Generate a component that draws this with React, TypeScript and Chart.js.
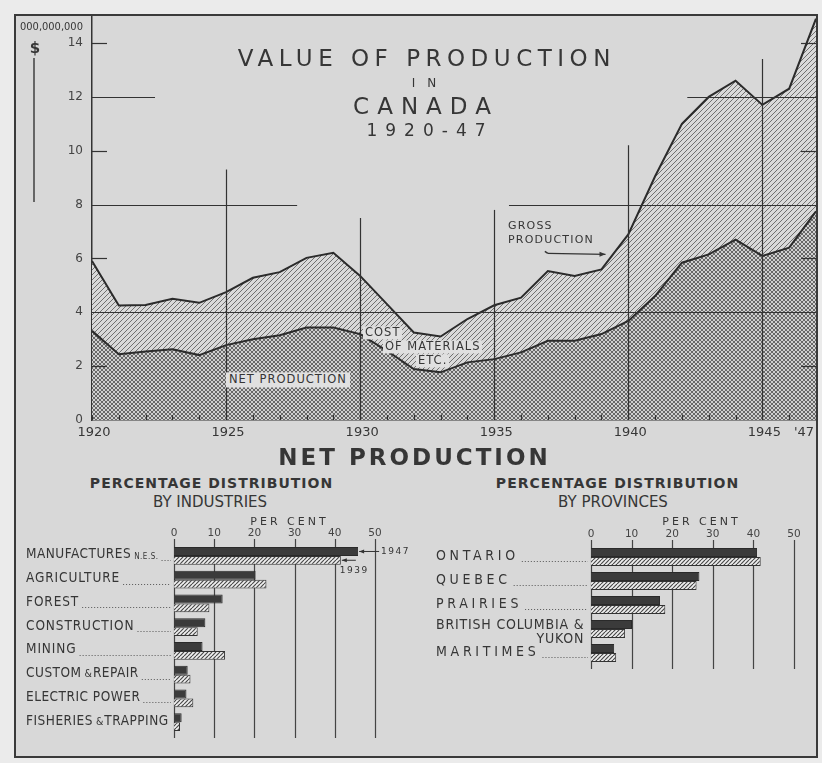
import React, { useEffect, useRef } from "react";
import { Chart, registerables } from "chart.js";

Chart.register(...registerables);

// ---------------- DATA ----------------
const years = [1920, 1921, 1922, 1923, 1924, 1925, 1926, 1927, 1928, 1929, 1930, 1931, 1932, 1933, 1934, 1935, 1936, 1937, 1938, 1939, 1940, 1941, 1942, 1943, 1944, 1945, 1946, 1947];
const grossProduction = [5.9, 4.25, 4.27, 4.5, 4.35, 4.75, 5.28, 5.49, 6.02, 6.21, 5.35, 4.3, 3.25, 3.1, 3.75, 4.26, 4.54, 5.53, 5.35, 5.59, 6.89, 9.05, 11.0, 12.0, 12.6, 11.7, 12.3, 14.9];
const netProduction = [3.31, 2.44, 2.54, 2.63, 2.41, 2.78, 3.0, 3.15, 3.43, 3.43, 3.19, 2.57, 1.89, 1.77, 2.14, 2.26, 2.51, 2.94, 2.94, 3.19, 3.68, 4.6, 5.84, 6.15, 6.7, 6.09, 6.4, 7.75];
const yearTickValues = [1920, 1925, 1930, 1935, 1940, 1945, 1947];
const yearTickLabels = ["1920", "1925", "1930", "1935", "1940", "1945", "'47"];
const valueTicks = [0, 2, 4, 6, 8, 10, 12, 14];

const industries = ["MANUFACTURES N.E.S.", "AGRICULTURE", "FOREST", "CONSTRUCTION", "MINING", "CUSTOM & REPAIR", "ELECTRIC POWER", "FISHERIES & TRAPPING"];
const industries1947 = [45.8, 20.3, 12.1, 7.8, 7.1, 3.4, 3.1, 1.9];
const industries1939 = [41.5, 23.0, 8.8, 5.9, 12.7, 4.1, 4.8, 1.5];

const provinces = ["ONTARIO", "QUEBEC", "PRAIRIES", "BRITISH COLUMBIA &\nYUKON", "MARITIMES"];
const provinces1947 = [40.9, 26.7, 17.0, 10.1, 5.7];
const provinces1939 = [41.8, 26.0, 18.3, 8.4, 6.2];

const percentTicks = [0, 10, 20, 30, 40, 50];
const seriesYears = ["1947", "1939"];

// ---------------- STYLE ----------------
const SANS = "'DejaVu Sans', sans-serif";
const COND = "'DejaVu Sans Condensed', 'Liberation Sans Narrow', 'DejaVu Sans', sans-serif";
const INK = "#363636";

function diagTile(size: number, bg: string, fg: string, lw: number, both: boolean) {
  const c = document.createElement("canvas");
  c.width = size;
  c.height = size;
  const g = c.getContext("2d")!;
  g.fillStyle = bg;
  g.fillRect(0, 0, size, size);
  g.strokeStyle = fg;
  g.lineWidth = lw;
  const line = (x0: number, y0: number, x1: number, y1: number) => {
    g.beginPath();
    g.moveTo(x0, y0);
    g.lineTo(x1, y1);
    g.stroke();
  };
  for (const o of [-size, 0, size]) {
    line(o, size, o + size, 0);
    if (both) line(o, 0, o + size, size);
  }
  return c;
}

function seg(ctx: CanvasRenderingContext2D, x0: number, y0: number, x1: number, y1: number) {
  ctx.beginPath();
  ctx.moveTo(x0, y0);
  ctx.lineTo(x1, y1);
  ctx.stroke();
}

function arrowHead(ctx: CanvasRenderingContext2D, x: number, y: number, dir: number, len = 6, half = 2.5) {
  ctx.beginPath();
  ctx.moveTo(x, y);
  ctx.lineTo(x - dir * len, y - half);
  ctx.lineTo(x - dir * len, y + half);
  ctx.closePath();
  ctx.fill();
}

const topDecorPlugin = {
  id: "topDecor",
  afterDatasetsDraw(chart: any) {
    const { ctx } = chart;
    const x = chart.scales.x;
    const y = chart.scales.y;
    ctx.save();
    ctx.strokeStyle = "#333";
    ctx.lineWidth = 1.2;
    const rules: [number, number, number][] = [
      [4, 1920, 1947],
      [8, 1920, 1927.65],
      [8, 1935.55, 1947],
      [12, 1920, 1922.35],
      [12, 1942.2, 1947],
    ];
    rules.forEach(([v, a, b]) => {
      const py = Math.round(y.getPixelForValue(v)) + 0.5;
      seg(ctx, x.getPixelForValue(a), py, x.getPixelForValue(b), py);
    });
    [2, 6, 10, 14].forEach((v) => {
      const py = Math.round(y.getPixelForValue(v)) + 0.5;
      seg(ctx, x.left, py, x.left + 15, py);
      seg(ctx, x.right - 15, py, x.right, py);
    });
    const verticals: [number, number][] = [
      [1925, 9.3],
      [1930, 7.5],
      [1935, 7.8],
      [1940, 10.2],
      [1945, 13.4],
    ];
    verticals.forEach(([yr, top]) => {
      const px = Math.round(x.getPixelForValue(yr)) + 0.5;
      seg(ctx, px, y.getPixelForValue(top), px, y.bottom);
    });
    years.forEach((yr) => {
      const px = Math.round(x.getPixelForValue(yr)) + 0.5;
      seg(ctx, px, y.bottom, px, y.bottom - 5);
    });
    // year labels
    ctx.fillStyle = INK;
    ctx.font = `13px ${SANS}`;
    ctx.textBaseline = "middle";
    yearTickValues.forEach((v, i) => {
      const px = x.getPixelForValue(v);
      const last = i === yearTickValues.length - 1;
      ctx.textAlign = last ? "right" : "center";
      ctx.fillText(yearTickLabels[i], last ? px - 2 : px + 2, y.bottom + 13);
    });
    // gross production arrow
    ctx.lineWidth = 1.4;
    const ay = y.getPixelForValue(6.15);
    const ax0 = x.getPixelForValue(1937.0);
    const ax1 = x.getPixelForValue(1939.15);
    seg(ctx, ax0, ay - 1, ax1, ay);
    seg(ctx, ax0, ay - 1, ax0 - 3, ay - 3);
    arrowHead(ctx, ax1, ay, 1);
    ctx.restore();
  },
};

// draws a text run, shrinking any " & " to a small ampersand; returns width
function drawRun(ctx: CanvasRenderingContext2D, text: string, x: number, y: number, size: number, spacing: number) {
  const parts = text.split(" & ");
  let cx = x;
  parts.forEach((p, i) => {
    if (i > 0) {
      ctx.font = `${size - 3}px ${COND}`;
      (ctx as any).letterSpacing = "0px";
      ctx.fillText(" &", cx, y + 1);
      cx += ctx.measureText(" &").width + 1;
    }
    ctx.font = `${size}px ${COND}`;
    (ctx as any).letterSpacing = `${spacing}px`;
    ctx.fillText(p, cx, y);
    cx += ctx.measureText(p).width;
  });
  return cx - x;
}

function makeBarDecor(labelX: number, wideSpacing: number, narrowSpacing: number, size: number) {
  return {
    id: "barDecor",
    beforeDatasetsDraw(chart: any) {
      const { ctx, chartArea } = chart;
      const x = chart.scales.x;
      ctx.save();
      ctx.strokeStyle = "#444";
      ctx.lineWidth = 1.2;
      percentTicks.forEach((v) => {
        const px = Math.round(x.getPixelForValue(v)) + 0.5;
        seg(ctx, px, chartArea.top - 5, px, chartArea.bottom + 4);
      });
      ctx.restore();
    },
    afterDraw(chart: any) {
      const { ctx, chartArea } = chart;
      const y = chart.scales.y;
      const labels: string[] = chart.data.labels;
      ctx.save();
      ctx.fillStyle = INK;
      ctx.strokeStyle = "#555";
      ctx.textBaseline = "middle";
      ctx.textAlign = "left";
      labels.forEach((label, i) => {
        const cy = y.getPixelForValue(i);
        const lines = label.split("\n");
        const multi = lines.length > 1;
        const single = !label.includes(" ");
        const sp = single ? wideSpacing : narrowSpacing;
        const ly = multi ? cy - 4 : cy - 1;
        let main = lines[0];
        let small = "";
        const m = main.match(/^(.*)\s(N\.E\.S\.)$/);
        if (m) {
          main = m[1];
          small = m[2];
        }
        let w: number;
        if (multi) {
          ctx.font = `${size}px ${COND}`;
          (ctx as any).letterSpacing = `${sp}px`;
          ctx.fillText(main, labelX, ly);
          w = ctx.measureText(main).width;
        } else {
          w = drawRun(ctx, main, labelX, ly, size, sp);
        }
        if (small) {
          ctx.font = `8px ${COND}`;
          (ctx as any).letterSpacing = "0.5px";
          ctx.fillText(small, labelX + w + 3, ly + 2);
          w += 3 + ctx.measureText(small).width;
        }
        if (multi) {
          ctx.font = `${size}px ${COND}`;
          (ctx as any).letterSpacing = `${sp}px`;
          ctx.textAlign = "right";
          ctx.fillText(lines[1], labelX + w, cy + 10);
          ctx.textAlign = "left";
        }
        (ctx as any).letterSpacing = "0px";
        ctx.setLineDash([1, 2]);
        ctx.lineWidth = 1;
        const dy = Math.round(ly + 5) + 0.5;
        if (chartArea.left - 3 > labelX + w + 4) seg(ctx, labelX + w + 3, dy, chartArea.left - 3, dy);
        ctx.setLineDash([]);
      });
      ctx.restore();
    },
  };
}

const yearMarkerPlugin = {
  id: "yearMarkers",
  afterDatasetsDraw(chart: any) {
    const { ctx } = chart;
    const b0 = chart.getDatasetMeta(0).data[0];
    const b1 = chart.getDatasetMeta(1).data[0];
    if (!b0 || !b1) return;
    ctx.save();
    ctx.strokeStyle = "#333";
    ctx.fillStyle = "#333";
    ctx.lineWidth = 1;
    seg(ctx, b0.x + 1, b0.y, b0.x + 21, b0.y);
    arrowHead(ctx, b0.x + 1, b0.y, -1, 5, 2);
    seg(ctx, b1.x + 1, b1.y, b1.x + 15, b1.y);
    arrowHead(ctx, b1.x + 1, b1.y, -1, 5, 2);
    ctx.font = `9px ${SANS}`;
    (ctx as any).letterSpacing = "1.5px";
    ctx.textBaseline = "middle";
    ctx.textAlign = "left";
    ctx.fillText(seriesYears[0], b0.x + 23, b0.y);
    ctx.fillText(seriesYears[1], b1.x - 1, b1.y + 10);
    ctx.restore();
  },
};

function barChart(
  canvas: HTMLCanvasElement,
  labels: string[],
  a: number[],
  b: number[],
  axisWidth: number,
  axisHeight: number,
  padRight: number,
  padBottom: number,
  decor: any,
  extra: any[]
) {
  const ctx = canvas.getContext("2d")!;
  const hatch = ctx.createPattern(diagTile(4, "#efefef", "#4a4a4a", 1.2, false), "repeat")!;
  return new Chart(canvas, {
    type: "bar",
    data: {
      labels,
      datasets: [
        { label: seriesYears[0], data: a, backgroundColor: "#3b3b3b", borderColor: "#2a2a2a", borderWidth: 1 },
        { label: seriesYears[1], data: b, backgroundColor: hatch as any, borderColor: "#333", borderWidth: 1 },
      ],
    },
    options: {
      indexAxis: "y",
      responsive: false,
      animation: false,
      events: [],
      layout: { padding: { left: 0, top: 0, right: padRight, bottom: padBottom } },
      datasets: { bar: { categoryPercentage: 0.74, barPercentage: 1.0 } } as any,
      plugins: { legend: { display: false }, tooltip: { enabled: false } },
      scales: {
        x: {
          position: "top",
          min: 0,
          max: 50,
          afterBuildTicks: (s: any) => {
            s.ticks = percentTicks.map((v) => ({ value: v }));
          },
          grid: { display: false, drawTicks: false },
          border: { display: false },
          ticks: { padding: 4, color: "#444", font: { family: SANS, size: 10.5 } },
          afterFit: (s: any) => {
            s.height = axisHeight;
            s.paddingLeft = 0;
            s.paddingRight = 0;
          },
        },
        y: {
          grid: { display: false, drawTicks: false },
          border: { display: false },
          ticks: { display: false },
          afterFit: (s: any) => {
            s.width = axisWidth;
            s.paddingTop = 0;
            s.paddingBottom = 0;
          },
        },
      },
    } as any,
    plugins: [decor, ...extra],
  });
}

type TxtProps = {
  x: number;
  y: number;
  children: React.ReactNode;
  size: number;
  weight?: number;
  spacing?: number;
  align?: "left" | "center";
  family?: string;
  bg?: string;
  pad?: [number, number];
};

function Txt({ x, y, children, size, weight = 400, spacing = 0, align = "center", family = SANS, bg, pad = [0, 0] }: TxtProps) {
  const padLeft = pad[1] + (align === "center" ? spacing : 0);
  return (
    <div
      style={{
        position: "absolute",
        left: x,
        top: y,
        transform: align === "center" ? "translate(-50%, -50%)" : "translateY(-50%)",
        fontFamily: family,
        fontSize: size,
        fontWeight: weight,
        letterSpacing: spacing,
        whiteSpace: "nowrap",
        lineHeight: 1.15,
        color: INK,
        background: bg,
        padding: `${pad[0]}px ${pad[1]}px ${pad[0]}px ${padLeft}px`,
      }}
    >
      {children}
    </div>
  );
}

export default function App() {
  const topRef = useRef<HTMLCanvasElement>(null);
  const indRef = useRef<HTMLCanvasElement>(null);
  const provRef = useRef<HTMLCanvasElement>(null);

  useEffect(() => {
    const charts: Chart[] = [];
    const tc = topRef.current!;
    const tctx = tc.getContext("2d")!;
    const cross = tctx.createPattern(diagTile(4, "#d0d0d0", "#686868", 1, true), "repeat")!;
    const hatch = tctx.createPattern(diagTile(5, "#d9d9d9", "#6f6f6f", 1, false), "repeat")!;

    charts.push(
      new Chart(tc, {
        type: "line",
        data: {
          datasets: [
            {
              label: "Net production",
              data: years.map((yr, i) => ({ x: yr, y: netProduction[i] })),
              fill: "origin",
              backgroundColor: cross as any,
              borderColor: "#2b2b2b",
              borderWidth: 2,
              pointRadius: 0,
              tension: 0,
            },
            {
              label: "Gross production",
              data: years.map((yr, i) => ({ x: yr, y: grossProduction[i] })),
              fill: "-1",
              backgroundColor: hatch as any,
              borderColor: "#2b2b2b",
              borderWidth: 2,
              pointRadius: 0,
              tension: 0,
            },
          ],
        },
        options: {
          responsive: false,
          animation: false,
          events: [],
          layout: { padding: 0 },
          plugins: { legend: { display: false }, tooltip: { enabled: false } },
          scales: {
            x: {
              type: "linear",
              min: 1920,
              max: 1947,
              grid: { display: false, drawTicks: false },
              border: { display: true, color: "#333", width: 1.5 },
              ticks: { display: false },
              afterFit: (s: any) => {
                s.height = 26;
                s.paddingLeft = 0;
                s.paddingRight = 0;
              },
            },
            y: {
              min: 0,
              max: 15,
              afterBuildTicks: (s: any) => {
                s.ticks = valueTicks.map((v) => ({ value: v }));
              },
              grid: { display: false, drawTicks: false },
              border: { display: true, color: "#333", width: 1.5 },
              ticks: { padding: 9, color: "#444", font: { family: SANS, size: 12 } },
              afterFit: (s: any) => {
                s.width = 76;
                s.paddingTop = 0;
                s.paddingBottom = 0;
              },
            },
          },
        } as any,
        plugins: [topDecorPlugin],
      })
    );

    charts.push(
      barChart(indRef.current!, industries, industries1947, industries1939, 158, 32, 41, 12, makeBarDecor(10, 0.9, 0.5, 13.5), [yearMarkerPlugin])
    );
    charts.push(barChart(provRef.current!, provinces, provinces1947, provinces1939, 166, 33, 21, 17, makeBarDecor(11, 3.7, 0.8, 14), []));

    return () => charts.forEach((c) => c.destroy());
  }, []);

  const labelBg = "#e0e0e0";

  return (
    <div style={{ position: "absolute", left: 0, top: 0, width: 822, height: 763, background: "#ebebeb", overflow: "hidden" }}>
      <div
        style={{
          position: "absolute",
          left: 14,
          top: 14,
          width: 804,
          height: 744,
          boxSizing: "border-box",
          border: "2px solid #3a3a3a",
          background: "#d8d8d8",
        }}
      />
      <canvas ref={topRef} width={800} height={430} style={{ position: "absolute", left: 16, top: 16 }} />
      <canvas ref={indRef} width={400} height={234} style={{ position: "absolute", left: 16, top: 512 }} />
      <canvas ref={provRef} width={390} height={170} style={{ position: "absolute", left: 425, top: 512 }} />

      {/* unit label */}
      <Txt x={20} y={27} size={11} align="left" family={COND}>000,000,000</Txt>
      <Txt x={35} y={49} size={15} weight={700}>$</Txt>
      <div style={{ position: "absolute", left: 33, top: 58, width: 2, height: 144, background: "#666" }} />

      {/* main title */}
      <Txt x={424} y={58} size={23} spacing={5.5}>VALUE OF PRODUCTION</Txt>
      <Txt x={424} y={84} size={12} spacing={12}>IN</Txt>
      <Txt x={422} y={106} size={23} spacing={8}>CANADA</Txt>
      <Txt x={426} y={131} size={17} spacing={8}>1920-47</Txt>

      {/* area annotations */}
      <Txt x={508} y={226} size={11} align="left" spacing={1.2}>GROSS</Txt>
      <Txt x={508} y={240} size={11} align="left" spacing={1.2}>PRODUCTION</Txt>
      <Txt x={363} y={333} size={11.5} align="left" spacing={1} bg={labelBg} pad={[0, 2]}>COST</Txt>
      <Txt x={383} y={347} size={11.5} align="left" spacing={1} bg={labelBg} pad={[0, 2]}>OF MATERIALS</Txt>
      <Txt x={416} y={361} size={11.5} align="left" spacing={1} bg={labelBg} pad={[0, 2]}>ETC.</Txt>
      <Txt x={226} y={380} size={11.5} align="left" spacing={1} bg={labelBg} pad={[1, 3]}>NET PRODUCTION</Txt>

      {/* lower headings */}
      <Txt x={413} y={457} size={23} weight={700} spacing={3}>NET PRODUCTION</Txt>
      <Txt x={211} y={483} size={14} weight={700} spacing={1}>PERCENTAGE DISTRIBUTION</Txt>
      <Txt x={210} y={503} size={15}>BY INDUSTRIES</Txt>
      <Txt x={617} y={483} size={14} weight={700} spacing={1}>PERCENTAGE DISTRIBUTION</Txt>
      <Txt x={613} y={503} size={15}>BY PROVINCES</Txt>
      <Txt x={288} y={522} size={11} spacing={3}>PER CENT</Txt>
      <Txt x={700} y={522} size={11} spacing={3}>PER CENT</Txt>
    </div>
  );
}
